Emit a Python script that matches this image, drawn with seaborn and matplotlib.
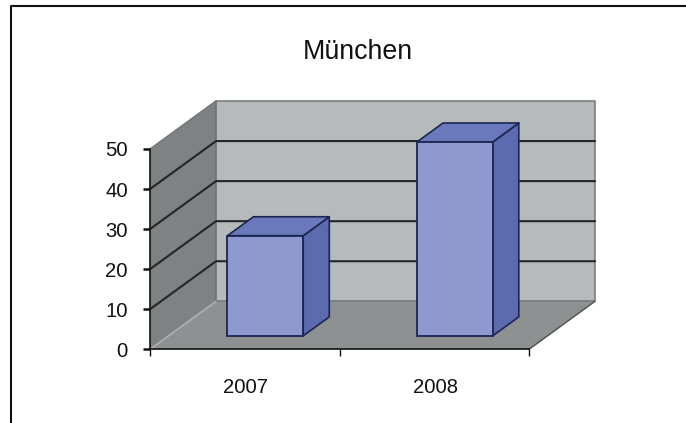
import matplotlib
matplotlib.use("Agg")
import matplotlib.pyplot as plt
from matplotlib.patches import Polygon
from matplotlib.lines import Line2D
import seaborn as sns

title = "München"
years = ["2007", "2008"]
values = [25, 48.4]
y_ticks = [0, 10, 20, 30, 40, 50]

W, H = 686, 423
sns.set_style("white")
plt.rcParams["font.family"] = ["Liberation Sans", "DejaVu Sans"]

fig = plt.figure(figsize=(W / 100, H / 100), dpi=100)

def box(x0, x1, ytop, ybot):
    return [x0 / W, 1 - ybot / H, (x1 - x0) / W, (ybot - ytop) / H]

ax = fig.add_axes(box(150, 529, 149, 349.3))
sns.barplot(x=years, y=values, width=0.4, color="#8e99cf", saturation=1,
            edgecolor="#1c2550", linewidth=1.3, ax=ax, zorder=6)
bars = list(ax.patches)
ax.set_xlim(-0.5, 1.5)
ax.set_ylim(0, 50)

# depth of the 3D box in data units
DX = 66 / 189.5
DY = 48 / 4.006
F, B = 0.28, 0.675   # front and back plane of the bars within that depth
NUDGE = 0.011        # bars sit slightly right of the category centre

def P(x, y, d=0.0):
    return (x + d * DX, y + d * DY)

wall = dict(clip_on=False, edgecolor="none")
ax.add_patch(Polygon([P(-.5, 0, 0), P(-.5, 50, 0), P(-.5, 50, 1), P(-.5, 0, 1)],
                     facecolor="#7e8282", zorder=1, **wall))
ax.add_patch(Polygon([P(-.5, 0, 1), P(-.5, 50, 1), P(1.5, 50, 1), P(1.5, 0, 1)],
                     facecolor="#b7babb", zorder=1, **wall))
ax.add_patch(Polygon([P(-.5, 0, 0), P(1.5, 0, 0), P(1.5, 0, 1), P(-.5, 0, 1)],
                     facecolor="#8d9191", zorder=2, **wall))

# outline of the walls
for pts, c in [([P(-.5, 50, 0), P(-.5, 50, 1), P(1.5, 50, 1), P(1.5, 0, 1)], "#73777a"),
               ([P(-.5, 0, 1), P(-.5, 50, 1)], "#6a6e6e"),
               ([P(-.5, 0, 1), P(1.5, 0, 1)], "#6f7373"),
               ([P(-.5, 0, 0), P(-.5, 0, 1)], "#b0b3b3"),
               ([P(1.5, 0, 0), P(1.5, 0, 1)], "#555555")]:
    xs, ys = zip(*pts)
    ax.add_line(Line2D(xs, ys, color=c, lw=1.1, clip_on=False, zorder=3))

# gridlines wrap round the left wall and the back wall
for t in y_ticks[1:-1]:
    xs, ys = zip(P(-.5, t, 0), P(-.5, t, 1), P(1.5, t, 1))
    ax.add_line(Line2D(xs, ys, color="#22262a", lw=1.5, clip_on=False, zorder=3,
                       solid_joinstyle="miter"))

# shift bars onto their plane and add the top and side faces
edge = dict(edgecolor="#1c2550", linewidth=1.2, clip_on=False, zorder=5, joinstyle="round")
for bar, v in zip(bars, values):
    x0 = bar.get_x() + NUDGE
    x1 = x0 + bar.get_width()
    bar.set_x(x0 + F * DX)
    bar.set_y(F * DY)
    bar.set_clip_on(False)
    ax.add_patch(Polygon([P(x1, 0, F), P(x1, v, F), P(x1, v, B), P(x1, 0, B)],
                         facecolor="#5b6bad", **edge))
    ax.add_patch(Polygon([P(x0, v, F), P(x1, v, F), P(x1, v, B), P(x0, v, B)],
                         facecolor="#6a79bb", **edge))

# axes
sns.despine(ax=ax, top=True, right=True)
for s in ("left", "bottom"):
    ax.spines[s].set_color("#111111")
    ax.spines[s].set_linewidth(1.2)
    ax.spines[s].set_zorder(7)
ax.patch.set_alpha(0)
ax.set_yticks(y_ticks)
ax.set_xticks([-0.5, 0.5, 1.5])
ax.set_xticklabels(["", "", ""])
ax.tick_params(axis="y", length=5, width=1.8, color="#111111", left=True,
               labelsize=14.6, pad=11, labelcolor="#111111")
ax.tick_params(axis="x", length=5, width=1, color="#111111", bottom=True)
for i, lab in enumerate(years):
    ax.text(i + 0.006, -9.6, lab, ha="center", va="center", fontsize=14.6, color="#111111")
fig.text(357.5 / W, 1 - 52 / H, title, ha="center", va="center", fontsize=19.3, color="#111111")

# chart frame
fig.add_artist(Line2D([11 / W, 11 / W, 1], [0, 1 - 6.5 / H, 1 - 6.5 / H],
                      color="#111111", lw=1.5, transform=fig.transFigure))

fig.savefig("out.png", dpi=100)
